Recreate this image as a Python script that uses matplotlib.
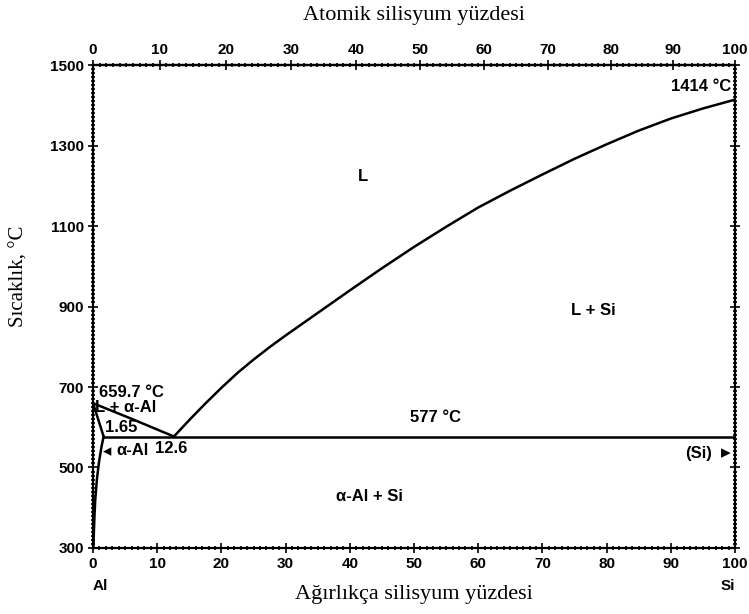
import numpy as np
import matplotlib
matplotlib.use('Agg')
import matplotlib.pyplot as plt
from matplotlib.ticker import MultipleLocator

# Al-Si phase diagram data (wt% Si, temperature in C)
liq_al_wt = [0, 6, 12.6]
liq_al_T = [659.7, 621, 577]

liq_si_wt = [12.6, 15, 17.5, 20, 22.5, 25, 27.5, 30, 35, 40, 45, 50, 55, 60, 65, 70,
             75, 80, 85, 90, 95, 100]
liq_si_T = [577, 618, 659, 698, 735, 768, 799, 828, 884, 940, 995, 1048, 1098, 1146,
            1188, 1228, 1267, 1303, 1337, 1367, 1392, 1414]

solidus_wt = [0, 0.8, 1.65]
solidus_T = [659.7, 620, 577]

solvus_wt = [1.65, 1.3, 0.9, 0.6, 0.35, 0.2, 0.05]
solvus_T = [577, 550, 510, 470, 420, 370, 300]

eut_wt = [1.65, 100]
eut_T = [577, 577]

wt_ticks = list(range(0, 101, 10))
T_ticks = list(range(300, 1501, 200))
at_ticks = list(range(0, 101, 10))

M_AL, M_SI = 26.982, 28.086


def wt_to_at(w):
    w = np.clip(np.asarray(w, dtype=float), 1e-9, 100 - 1e-9)
    a = w / M_SI
    b = (100 - w) / M_AL
    return 100 * a / (a + b)


def at_to_wt(x):
    x = np.clip(np.asarray(x, dtype=float), 1e-9, 100 - 1e-9)
    a = x * M_SI
    b = (100 - x) * M_AL
    return 100 * a / (a + b)


sans = ['Liberation Sans', 'DejaVu Sans']
serif = ['Liberation Serif', 'DejaVu Serif']

fig = plt.figure(figsize=(7.49, 6.14), dpi=100)
ax = fig.add_axes([0.1242, 0.1075, 0.8571, 0.7866])

lw = 1.8
ax.plot(liq_al_wt, liq_al_T, color='black', lw=lw)
ax.plot(liq_si_wt, liq_si_T, color='black', lw=lw)
ax.plot(solidus_wt, solidus_T, color='black', lw=lw)
ax.plot(solvus_wt, solvus_T, color='black', lw=lw)
ax.plot(eut_wt, eut_T, color='black', lw=lw)

ax.set_xlim(0, 100)
ax.set_ylim(300, 1500)
ax.set_xticks(wt_ticks)
ax.set_yticks(T_ticks)
ax.xaxis.set_minor_locator(MultipleLocator(1))
ax.yaxis.set_minor_locator(MultipleLocator(10))
ax.tick_params(which='both', direction='inout', top=False, right=True, width=1.2)
ax.tick_params(which='major', length=7, pad=3)
ax.tick_params(which='minor', length=3)
for s in ax.spines.values():
    s.set_linewidth(1.6)

for lab in ax.get_xticklabels() + ax.get_yticklabels():
    lab.set_fontfamily(sans)
    lab.set_fontweight('bold')
    lab.set_fontsize(11)

sec = ax.secondary_xaxis('top', functions=(wt_to_at, at_to_wt))
sec.set_xticks(at_ticks)
sec.xaxis.set_minor_locator(MultipleLocator(1))
sec.tick_params(which='both', direction='inout', width=1.2)
sec.tick_params(which='major', length=7, pad=2)
sec.tick_params(which='minor', length=3)
sec.spines['top'].set_linewidth(1.6)
for lab in sec.get_xticklabels():
    lab.set_fontfamily(sans)
    lab.set_fontweight('bold')
    lab.set_fontsize(11)
sec.set_xlabel('Atomik silisyum yüzdesi', family=serif, fontsize=16, labelpad=17)

ax.set_xlabel('Ağırlıkça silisyum yüzdesi', family=serif, fontsize=16, labelpad=10)
ax.set_ylabel('Sıcaklık, °C', family=serif, fontsize=15)
ax.yaxis.set_label_coords(-0.100, 0.563)

# end labels
ax.text(0, 206, 'Al', ha='left', va='center', family=sans, fontweight='bold', fontsize=11)
ax.text(100, 206, 'Si', ha='right', va='center', family=sans, fontweight='bold', fontsize=11)

tk = dict(family=sans, fontweight='bold', fontsize=12, color='black')
ax.text(1.0, 686, '659.7 °C', ha='left', va='center', **tk)
ax.text(0.3, 648, 'L + α-Al', ha='left', va='center', **tk)
ax.text(1.8, 599, '1.65', ha='left', va='center', **tk)
ax.text(9.7, 548, '12.6', ha='left', va='center', **tk)
ax.text(1.6, 541, '◂', ha='left', va='center', family=['DejaVu Sans'], fontsize=12)
ax.text(3.6, 541, 'α-Al', ha='left', va='center', **tk)
ax.text(53.3, 625, '577 °C', ha='center', va='center', **tk)
ax.text(96.4, 536, '(Si)', ha='right', va='center', **tk)
ax.text(99.3, 536, '▸', ha='right', va='center', family=['DejaVu Sans'], fontsize=14)
ax.text(43.1, 427, 'α-Al + Si', ha='center', va='center', **tk)
ax.text(42, 1222, 'L', ha='center', va='center', **tk)
ax.text(77.9, 891, 'L + Si', ha='center', va='center', **tk)
ax.text(99.4, 1447, '1414 °C', ha='right', va='center', **tk)

fig.savefig('out.png', dpi=100)
